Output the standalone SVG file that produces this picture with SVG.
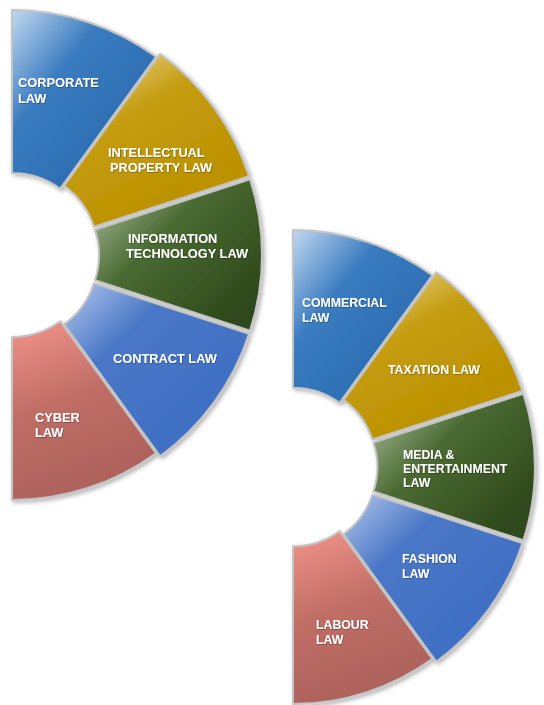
<svg xmlns="http://www.w3.org/2000/svg" width="544" height="705" viewBox="0 0 544 705">
<style>
.seg{stroke:#c4c4c4;stroke-width:2;stroke-linejoin:round}
.lbl{font-family:"Liberation Sans",Arial,sans-serif;font-weight:bold;fill:#ffffff;filter:url(#ts)}
.l1{font-size:12.8px}
.l2{font-size:12.3px}
</style>
<defs>
<filter id="sh" x="-10%" y="-10%" width="130%" height="130%">
<feDropShadow dx="2" dy="2" stdDeviation="2" flood-color="#000" flood-opacity="0.3"/>
</filter>
<filter id="ts" x="-5%" y="-30%" width="110%" height="160%">
<feDropShadow dx="0.6" dy="0.6" stdDeviation="0.5" flood-color="#000" flood-opacity="0.45"/>
</filter>
<linearGradient id="gBlue" x1="0" y1="0" x2="0.75" y2="0.75">
<stop offset="0" stop-color="#c2d8f0"/><stop offset="0.45" stop-color="#3a7cc0"/><stop offset="1" stop-color="#2b6cb0"/>
</linearGradient>
<linearGradient id="gGold" x1="0.1" y1="0" x2="0.6" y2="0.8">
<stop offset="0" stop-color="#ecdb9c"/><stop offset="0.45" stop-color="#c69d12"/><stop offset="1" stop-color="#bc9200"/>
</linearGradient>
<linearGradient id="gGreen" x1="0" y1="0" x2="0.9" y2="0.8">
<stop offset="0" stop-color="#b3c4a6"/><stop offset="0.45" stop-color="#4a6a32"/><stop offset="1" stop-color="#2f4a1b"/>
</linearGradient>
<linearGradient id="gCon" x1="0" y1="0" x2="0.7" y2="0.7">
<stop offset="0" stop-color="#b4c8ec"/><stop offset="0.45" stop-color="#4a77c7"/><stop offset="1" stop-color="#4170c4"/>
</linearGradient>
<linearGradient id="gRed" x1="0" y1="0" x2="0.3" y2="1">
<stop offset="0" stop-color="#f3948a"/><stop offset="0.5" stop-color="#c06e66"/><stop offset="1" stop-color="#ad625b"/>
</linearGradient>
</defs>

<g id="donut-left" filter="url(#sh)">
<g id="corporate-law">
<path class="seg" fill="url(#gBlue)" transform="translate(12,255)" d="M0,-245 A245,245 0 0 1 144,-198.2 L48.2,-66.3 A82,82 0 0 0 0,-82 Z"/>
<text class="lbl l1" x="18" y="87">CORPORATE</text>
<text class="lbl l1" x="18" y="103">LAW</text>
</g>
<g id="intellectual-property-law">
<path class="seg" fill="url(#gGold)" transform="translate(16,252)" d="M144,-198.2 A245,245 0 0 1 233,-75.7 L78,-25.3 A82,82 0 0 0 48.2,-66.3 Z"/>
<text class="lbl l1" x="108" y="157">INTELLECTUAL</text>
<text class="lbl l1" x="110" y="172">PROPERTY LAW</text>
</g>
<g id="information-technology-law">
<path class="seg" fill="url(#gGreen)" transform="translate(17,255)" d="M233,-75.7 A245,245 0 0 1 233,75.7 L78,25.3 A82,82 0 0 0 78,-25.3 Z"/>
<text class="lbl l1" x="128" y="243">INFORMATION</text>
<text class="lbl l1" x="126" y="258">TECHNOLOGY LAW</text>
</g>
<g id="contract-law">
<path class="seg" fill="url(#gCon)" transform="translate(16,258)" d="M233,75.7 A245,245 0 0 1 144,198.2 L48.2,66.3 A82,82 0 0 0 78,25.3 Z"/>
<text class="lbl l1" x="113" y="363">CONTRACT LAW</text>
</g>
<g id="cyber-law">
<path class="seg" fill="url(#gRed)" transform="translate(12,255)" d="M144,198.2 A245,245 0 0 1 0,245 L0,82 A82,82 0 0 0 48.2,66.3 Z"/>
<text class="lbl l1" x="35" y="422">CYBER</text>
<text class="lbl l1" x="35" y="437">LAW</text>
</g>
</g>

<g id="donut-right" filter="url(#sh)">
<g id="commercial-law">
<path class="seg" fill="url(#gBlue)" transform="translate(293,467) scale(0.967)" d="M0,-245 A245,245 0 0 1 144,-198.2 L48.2,-66.3 A82,82 0 0 0 0,-82 Z"/>
<text class="lbl l2" x="302" y="307">COMMERCIAL</text>
<text class="lbl l2" x="302" y="322">LAW</text>
</g>
<g id="taxation-law">
<path class="seg" fill="url(#gGold)" transform="translate(297,464) scale(0.967)" d="M144,-198.2 A245,245 0 0 1 233,-75.7 L78,-25.3 A82,82 0 0 0 48.2,-66.3 Z"/>
<text class="lbl l2" x="388" y="374">TAXATION LAW</text>
</g>
<g id="media-entertainment-law">
<path class="seg" fill="url(#gGreen)" transform="translate(298,467) scale(0.967)" d="M233,-75.7 A245,245 0 0 1 233,75.7 L78,25.3 A82,82 0 0 0 78,-25.3 Z"/>
<text class="lbl l2" x="403" y="459">MEDIA &amp;</text>
<text class="lbl l2" x="403" y="473">ENTERTAINMENT</text>
<text class="lbl l2" x="403" y="487">LAW</text>
</g>
<g id="fashion-law">
<path class="seg" fill="url(#gCon)" transform="translate(297,470) scale(0.967)" d="M233,75.7 A245,245 0 0 1 144,198.2 L48.2,66.3 A82,82 0 0 0 78,25.3 Z"/>
<text class="lbl l2" x="402" y="563">FASHION</text>
<text class="lbl l2" x="402" y="578">LAW</text>
</g>
<g id="labour-law">
<path class="seg" fill="url(#gRed)" transform="translate(293,467) scale(0.967)" d="M144,198.2 A245,245 0 0 1 0,245 L0,82 A82,82 0 0 0 48.2,66.3 Z"/>
<text class="lbl l2" x="316" y="629">LABOUR</text>
<text class="lbl l2" x="316" y="644">LAW</text>
</g>
</g>
</svg>
